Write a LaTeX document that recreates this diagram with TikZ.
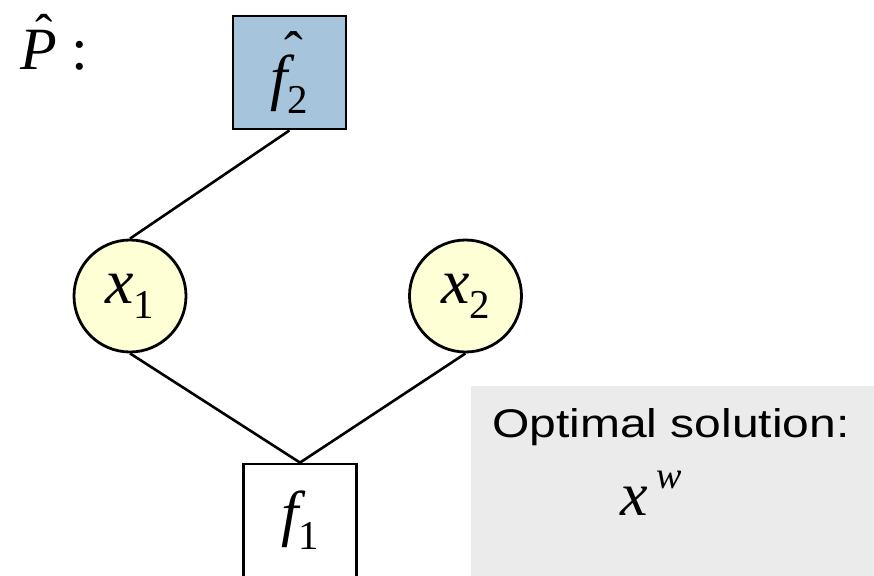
\documentclass[tikz,border=0pt]{standalone}
\usepackage{fontspec}
\newfontfamily\tms{Liberation Serif}
\newfontfamily\optfont[FakeStretch=1.2]{Liberation Sans}
\definecolor{factorblue}{HTML}{A6C4DC}
\definecolor{varyellow}{HTML}{FFFFD6}
\definecolor{solgray}{HTML}{EBEBEB}
\newsavebox\hatbox
\newcommand{\lowsub}[1]{\raisebox{-15pt}{\fontsize{41}{41}\selectfont\upshape #1}}
% shift, raise, size, letter
\newcommand{\hatted}[4]{\sbox\hatbox{#4}\rlap{\hbox to\wd\hatbox{\hss\kern#1\raisebox{#2}{\fontsize{#3}{#3}\selectfont\upshape\char"02C6}\hss}}\usebox\hatbox}

\begin{document}
\begin{tikzpicture}[x=1pt,y=-1pt,
    factor/.style={rectangle,draw,line width=2.8pt,minimum width=113pt,minimum height=113pt,inner sep=0pt,font=\tms\fontsize{62}{62}\selectfont\itshape},
    var/.style={circle,draw,line width=2.8pt,fill=varyellow,minimum size=112pt,inner sep=0pt,font=\tms\fontsize{64}{64}\selectfont\itshape},
    link/.style={line width=2.6pt}]
    \useasboundingbox (0,0) rectangle (874,575);
    \node[fill=solgray,anchor=north west,minimum width=403pt,minimum height=190pt,inner sep=0pt] (sol) at (471,386) {};
    \node[factor,fill=factorblue] (f2) at (289.5,72.5) {\hatted{30pt}{28pt}{56pt}{f}\lowsub{2}};
    \node[var] (x1) at (130,296) {x\lowsub{1}};
    \node[var] (x2) at (465.5,296) {x\lowsub{2}};
    \node[factor] (f1) at (300,520.5) {f\lowsub{1}};%
    \draw[link] (f2.south) -- (x1.north);
    \draw[link] (f1.north) -- (x1.south);
    \draw[link] (f1.north) -- (x2.south);%
    \node[anchor=base west,inner sep=0pt,font=\tms\fontsize{60}{60}\selectfont] (plabel) at (20,70) {\hatted{12pt}{19pt}{52pt}{\itshape P} :};
    \node[anchor=base west,inner sep=0pt,font=\optfont\fontsize{40}{40}\selectfont] (opt) at (492,437) {Optimal solution:};
    \node[anchor=base west,inner sep=0pt,font=\tms\fontsize{62}{62}\selectfont\itshape] (xw) at (620,515) {x\kern9pt\raisebox{27pt}{\fontsize{38}{38}\selectfont w}};
\end{tikzpicture}
\end{document}
